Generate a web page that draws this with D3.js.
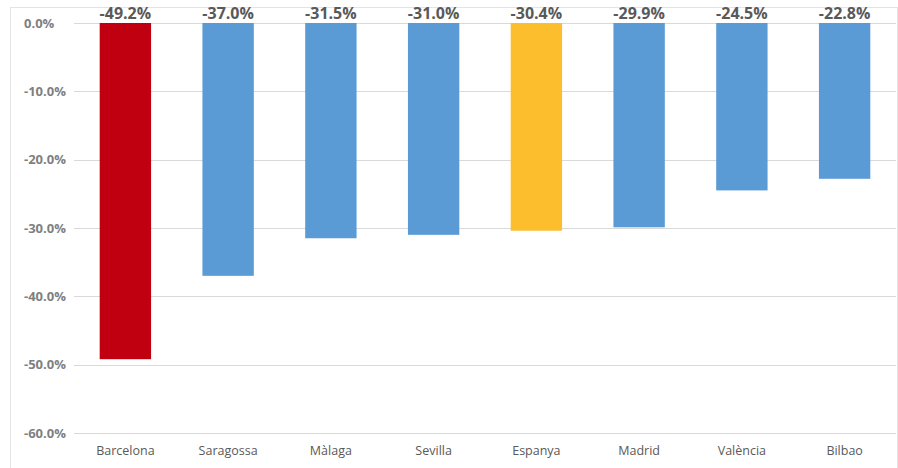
<!DOCTYPE html>
<html>
<head>
<meta charset="utf-8">
<script src="https://cdn.jsdelivr.net/npm/d3@7"></script>
<style>
    body { margin: 0; background: #fff; }
    svg text { font-family: "Open Sans", sans-serif; }
</style>
</head>
<body>
<svg id="chart" width="898" height="468"></svg>
<script>
// cities and their change (%)
const cities = ["Barcelona", "Saragossa", "Màlaga", "Sevilla", "Espanya", "Madrid", "València", "Bilbao"];
const values = [-49.2, -37.0, -31.5, -31.0, -30.4, -29.9, -24.5, -22.8];
const yTicks = [0, -10, -20, -30, -40, -50, -60];

// bar colors, highlighted cities
const barColors = {
    "Barcelona": "#C00010",
    "Espanya": "#FDBE2D"
};
const defaultColor = "#5B9BD5";

const width = 898;
const height = 468;
const plotLeft = 74;
const plotRight = 896;
const plotTop = 23;
const plotBottom = 433;

// plain hyphen for the minus sign, like the original
const pct = d => d.toFixed(1) + "%";

const svg = d3.select("#chart");

// frame around the picture
svg.append("rect")
    .attr("x", 10.5)
    .attr("y", 7.5)
    .attr("width", width - 11)
    .attr("height", height - 7)
    .attr("fill", "none")
    .attr("stroke", "#E3E3E3");

const xScale = d3.scaleBand()
    .domain(cities)
    .range([plotLeft, plotRight])
    .paddingInner(0.5)
    .paddingOuter(0.25);

const yScale = d3.scaleLinear()
    .domain([0, -60])
    .range([plotTop, plotBottom]);

// gridlines
svg.append("g")
    .selectAll("line")
    .data(yTicks)
    .join("line")
    .attr("x1", plotLeft)
    .attr("x2", plotRight)
    .attr("y1", d => Math.round(yScale(d)) + 0.5)
    .attr("y2", d => Math.round(yScale(d)) + 0.5)
    .attr("stroke", "#D9D9D9")
    .attr("stroke-width", 1);

// y tick labels, left aligned like the original
svg.append("g")
    .selectAll("text")
    .data(yTicks)
    .join("text")
    .attr("x", 24)
    .attr("y", d => yScale(d) + 4.5)
    .attr("font-size", "13px")
    .attr("font-weight", "bold")
    .attr("fill", "#7F7F7F")
    .text(pct);

// bars hanging down from zero
svg.append("g")
    .selectAll("rect")
    .data(cities)
    .join("rect")
    .attr("x", d => xScale(d))
    .attr("y", yScale(0))
    .attr("width", xScale.bandwidth())
    .attr("height", (d, i) => yScale(values[i]) - yScale(0))
    .attr("fill", d => barColors[d] || defaultColor);

// value labels above the zero line
svg.append("g")
    .selectAll("text")
    .data(cities)
    .join("text")
    .attr("x", d => xScale(d) + xScale.bandwidth() / 2)
    .attr("y", 19)
    .attr("text-anchor", "middle")
    .attr("font-size", "16px")
    .attr("font-weight", "bold")
    .attr("fill", "#595959")
    .text((d, i) => pct(values[i]));

// category labels
svg.append("g")
    .selectAll("text")
    .data(cities)
    .join("text")
    .attr("x", d => xScale(d) + xScale.bandwidth() / 2)
    .attr("y", 455)
    .attr("text-anchor", "middle")
    .attr("font-size", "12.5px")
    .attr("fill", "#595959")
    .text(d => d);
</script>
</body>
</html>
